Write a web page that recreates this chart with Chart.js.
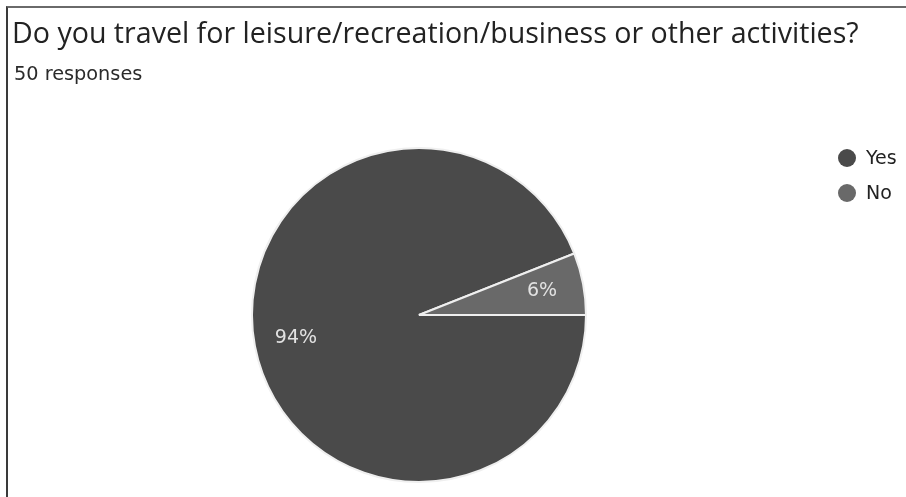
<!DOCTYPE html>
<html>
<head>
<meta charset="utf-8">
<script src="https://cdn.jsdelivr.net/npm/chart.js@4/dist/chart.umd.min.js"></script>
<style>
  html, body { margin: 0; padding: 0; background: #ffffff; }
  #wrap { position: relative; width: 906px; height: 497px; overflow: hidden; }
  #frame { position: absolute; left: 6px; top: 6px; right: -4px; bottom: -4px;
           border-top: 2px solid #6a6a6a; border-left: 2px solid #3a3a3a; }
  #chart { position: absolute; left: 0; top: 0; }
</style>
</head>
<body>
<div id="wrap">
  <div id="frame"></div>
  <canvas id="chart" width="906" height="497"></canvas>
</div>
<script>
// Survey question and answers
const questionText = 'Do you travel for leisure/recreation/business or other activities?';
const responseNote = '50 responses';
const answers = ['Yes', 'No'];
const answerCounts = [47, 3];
const sliceColors = ['#4a4a4a', '#696969'];

const headFont = '"Open Sans", sans-serif';
const sideFont = '"DejaVu Sans", sans-serif';

// Question heading and response count, left aligned above the pie
const heading = {
  id: 'heading',
  afterDraw(chart) {
    const { ctx } = chart;
    ctx.save();
    ctx.textAlign = 'left';
    ctx.textBaseline = 'alphabetic';
    ctx.font = '28.6px ' + headFont;
    ctx.fillStyle = '#222222';
    ctx.fillText(questionText, 12, 43);
    ctx.font = '19.3px ' + sideFont;
    ctx.fillStyle = '#2a2a2a';
    ctx.fillText(responseNote, 14, 80);
    ctx.restore();
  }
};

// Percentage labels inside each slice
const sliceLabels = {
  id: 'sliceLabels',
  afterDatasetsDraw(chart) {
    const { ctx } = chart;
    const meta = chart.getDatasetMeta(0);
    const values = chart.data.datasets[0].data;
    const total = values.reduce((a, b) => a + b, 0);
    ctx.save();
    ctx.font = '19px ' + sideFont;
    ctx.fillStyle = '#e2e2e2';
    ctx.textAlign = 'center';
    ctx.textBaseline = 'middle';
    meta.data.forEach((arc, i) => {
      const p = arc.getProps(['x', 'y', 'startAngle', 'endAngle', 'outerRadius'], true);
      const mid = (p.startAngle + p.endAngle) / 2;
      const r = p.outerRadius * 0.75;
      const pct = Math.round(values[i] / total * 100) + '%';
      ctx.fillText(pct, p.x + Math.cos(mid) * r, p.y + Math.sin(mid) * r);
    });
    ctx.restore();
  }
};

// Legend with round markers at the top right
const sideLegend = {
  id: 'sideLegend',
  afterDraw(chart) {
    const { ctx } = chart;
    const ds = chart.data.datasets[0];
    ctx.save();
    ctx.font = '19px ' + sideFont;
    ctx.textBaseline = 'middle';
    ctx.textAlign = 'left';
    chart.data.labels.forEach((label, i) => {
      const y = 158 + i * 35;
      ctx.beginPath();
      ctx.arc(847, y, 9, 0, Math.PI * 2);
      ctx.fillStyle = ds.backgroundColor[i];
      ctx.fill();
      ctx.fillStyle = '#222222';
      ctx.fillText(label, 866, y + 1);
    });
    ctx.restore();
  }
};

new Chart(document.getElementById('chart'), {
  type: 'pie',
  data: {
    labels: answers,
    datasets: [{
      data: answerCounts,
      backgroundColor: sliceColors,
      borderColor: '#efefef',
      borderWidth: 2
    }]
  },
  options: {
    responsive: false,
    animation: false,
    rotation: 90,
    layout: { padding: { top: 147, left: 13, right: 81, bottom: 14 } },
    plugins: {
      legend: { display: false },
      tooltip: { enabled: false }
    }
  },
  plugins: [heading, sliceLabels, sideLegend]
});
</script>
</body>
</html>
